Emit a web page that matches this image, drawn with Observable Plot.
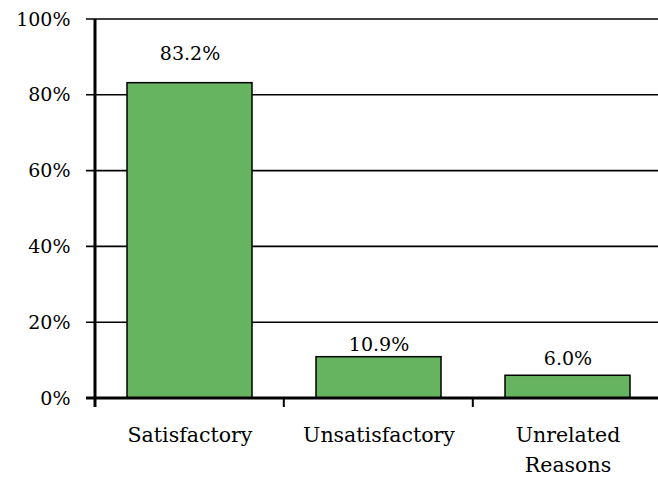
<!DOCTYPE html>
<html><head><meta charset="utf-8">
<script src="https://cdn.jsdelivr.net/npm/d3@7"></script>
<script src="https://cdn.jsdelivr.net/npm/@observablehq/plot@0.6"></script>
<style>
html,body{margin:0;padding:0;background:#fff;overflow:hidden;}
</style>
</head><body><div id="chart"></div>
<script>
const categories = ["Satisfactory", "Unsatisfactory", "Unrelated\nReasons"];
const values = [83.2, 10.9, 6.0];
const valueLabels = ["83.2%", "10.9%", "6.0%"];
const yTicks = [0, 20, 40, 60, 80, 100];

const data = categories.map((c, i) => ({cat: c, v: values[i], label: valueLabels[i]}));
const PI = 0.34, PO = 0.17;
const X_LEFT = 95, X_RIGHT = 662;

// gridlines + left ticks (y scale driven)
const grid = (index, scales) => {
  const y = scales.y;
  const g = d3.create("svg:g");
  yTicks.filter(t => t > 0).forEach(t => {
    g.append("line").attr("x1", X_LEFT - 9).attr("x2", X_RIGHT)
      .attr("y1", y(t)).attr("y2", y(t))
      .attr("stroke", "black").attr("stroke-width", 1.6);
  });
  return g.node();
};

// axes lines + category boundary ticks
const axes = (index, scales) => {
  const x = scales.x, y = scales.y;
  const step = x.bandwidth() / (1 - PI);
  const g = d3.create("svg:g");
  g.append("line").attr("x1", X_LEFT - 9).attr("x2", X_RIGHT)
    .attr("y1", y(0)).attr("y2", y(0)).attr("stroke", "black").attr("stroke-width", 3);
  g.append("line").attr("x1", X_LEFT).attr("x2", X_LEFT)
    .attr("y1", y(100)).attr("y2", y(0) + 9).attr("stroke", "black").attr("stroke-width", 3);
  categories.slice(1).forEach(c => {
    const px = x(c) - PO * step;
    g.append("line").attr("x1", px).attr("x2", px)
      .attr("y1", y(0)).attr("y2", y(0) + 9)
      .attr("stroke", "black").attr("stroke-width", 2);
  });
  return g.node();
};

const plot = Plot.plot({
  width: 658,
  height: 477,
  marginTop: 19,
  marginBottom: 79,
  marginLeft: 95,
  marginRight: 0,
  style: {background: "white", overflow: "visible"},
  x: {domain: categories, range: [X_LEFT, X_RIGHT], paddingInner: PI, paddingOuter: PO, axis: null},
  y: {domain: [0, 100], axis: null},
  marks: [
    grid,
    Plot.barY(data, {x: "cat", y: "v", fill: "#66b360", stroke: "black", strokeWidth: 1.5}),
    axes,
    Plot.text(yTicks, {y: d => d, text: d => d + "%", frameAnchor: "left", dx: -25, textAnchor: "end",
      fontFamily: "DejaVu Serif", fontSize: 19, fill: "black"}),
    Plot.text(data.slice(0, 1), {x: "cat", y: "v", text: "label", dy: -23, lineAnchor: "bottom",
      fontFamily: "DejaVu Serif", fontSize: 19, fill: "black"}),
    Plot.text(data.slice(1, 2), {x: "cat", y: "v", text: "label", dy: -6, lineAnchor: "bottom",
      fontFamily: "DejaVu Serif", fontSize: 19, fill: "black"}),
    Plot.text(data.slice(2, 3), {x: "cat", y: "v", text: "label", dy: -11, lineAnchor: "bottom",
      fontFamily: "DejaVu Serif", fontSize: 19, fill: "black"}),
    Plot.text(data, {x: "cat", y: 0, text: "cat", dy: 22, lineAnchor: "top", lineHeight: 1.48,
      fontFamily: "DejaVu Serif", fontSize: 20.5, fill: "black"})
  ]
});
document.getElementById("chart").appendChild(plot);
</script>
</body></html>
